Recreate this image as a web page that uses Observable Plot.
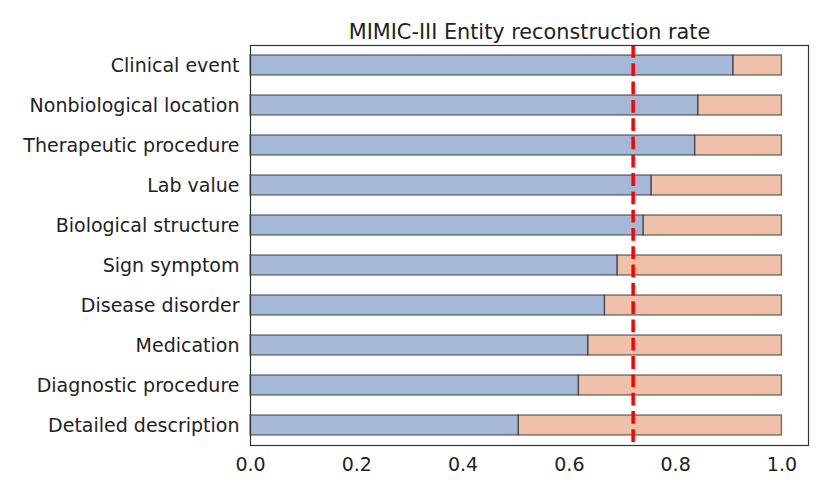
<!DOCTYPE html>
<html>
<head>
<meta charset="utf-8">
<script src="https://cdn.jsdelivr.net/npm/d3@7"></script>
<script src="https://cdn.jsdelivr.net/npm/@observablehq/plot@0.6"></script>
<style>
  body { margin: 0; background: #fff; }
  svg { font-family: "DejaVu Sans", sans-serif; }
</style>
</head>
<body>
<div id="chart"></div>
<script>
const title = "MIMIC-III Entity reconstruction rate";
const categories = [
  "Clinical event",
  "Nonbiological location",
  "Therapeutic procedure",
  "Lab value",
  "Biological structure",
  "Sign symptom",
  "Disease disorder",
  "Medication",
  "Diagnostic procedure",
  "Detailed description"
];
const rates = [0.909, 0.843, 0.837, 0.755, 0.740, 0.691, 0.667, 0.636, 0.618, 0.505];
const threshold = 0.72;
const xTicks = [0, 0.2, 0.4, 0.6, 0.8, 1.0];

const rows = categories.map((c, i) => ({category: c, rate: rates[i], total: 1}));

const chart = Plot.plot({
  width: 830,
  height: 498,
  marginLeft: 250,
  marginRight: 22,
  marginTop: 45,
  marginBottom: 53,
  style: {fontFamily: "DejaVu Sans, sans-serif", fontSize: "19px", color: "#222", background: "#fff"},
  x: {domain: [0, 1.05], ticks: xTicks, tickFormat: d3.format(".1f"), label: null, tickSize: 0, tickPadding: 12},
  y: {domain: categories, label: null, tickSize: 0, tickPadding: 11, paddingInner: 0.5, paddingOuter: 0.25},
  marks: [
    Plot.barX(rows, {y: "category", x1: 0, x2: "rate", fill: "#a5b8d7", stroke: "#000", strokeOpacity: 0.55, strokeWidth: 1.3}),
    Plot.barX(rows, {y: "category", x1: "rate", x2: "total", fill: "#eec1a8", stroke: "#000", strokeOpacity: 0.55, strokeWidth: 1.3}),
    Plot.ruleX([threshold], {stroke: "red", strokeWidth: 3.5, strokeDasharray: "12.8,5.5"}),
    Plot.frame({stroke: "#333", strokeWidth: 1.2}),
    Plot.text([title], {frameAnchor: "top", dy: -7, fontSize: 20.8, fill: "#222", textAnchor: "middle", lineAnchor: "bottom"})
  ]
});
document.getElementById("chart").appendChild(chart);
</script>
</body>
</html>
